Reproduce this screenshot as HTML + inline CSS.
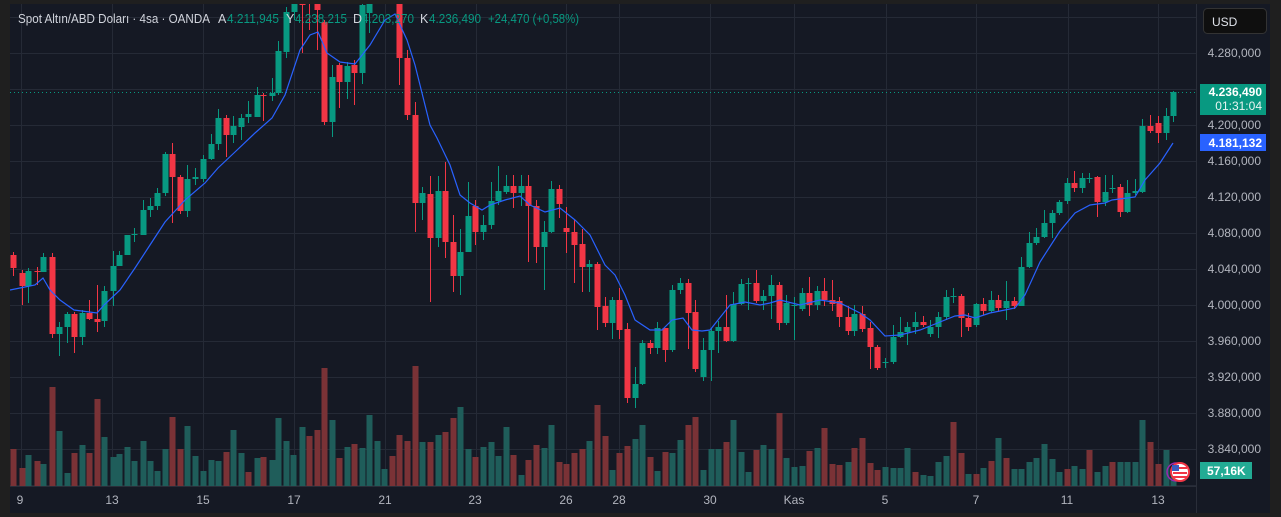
<!DOCTYPE html>
<html><head><meta charset="utf-8">
<style>
html,body{margin:0;padding:0;background:#1f1f1f;width:1281px;height:517px;overflow:hidden}
svg{display:block}
text{font-family:"Liberation Sans",sans-serif}
</style></head><body>
<svg id="s" width="1281" height="517" xmlns="http://www.w3.org/2000/svg">
<rect x="0" y="0" width="1281" height="517" fill="#1f1f1f"/>
<rect x="10" y="4" width="1260" height="509" fill="#151924"/>
<g id="grid" stroke="#252a36" stroke-width="1"></g>
<line x1="10" y1="486.5" x2="1196" y2="486.5" stroke="#2a2e39"/>
<line x1="1196.5" y1="4" x2="1196.5" y2="513" stroke="#2a2e39"/>
<defs><clipPath id="cp"><rect x="10" y="4" width="1186" height="482"/></clipPath></defs>
<g id="vol" clip-path="url(#cp)"></g>
<line x1="10" y1="92.5" x2="1196" y2="92.5" stroke="#089981" stroke-dasharray="1,3"/>
<g id="cdl" clip-path="url(#cp)"></g>
<polyline id="ma" fill="none" stroke="#2962ff" stroke-width="1.2" clip-path="url(#cp)"/>
<!-- header -->
<g font-size="12.5">
<text x="18" y="23" fill="#d1d4dc" textLength="192" lengthAdjust="spacingAndGlyphs">Spot Altın/ABD Doları · 4sa · OANDA</text>
<text x="218" y="23" fill="#d1d4dc">A</text><text x="227" y="23" fill="#089981" textLength="52" lengthAdjust="spacingAndGlyphs">4.211,945</text>
<text x="286" y="23" fill="#d1d4dc">Y</text><text x="295" y="23" fill="#089981" textLength="52" lengthAdjust="spacingAndGlyphs">4.238,215</text>
<text x="353" y="23" fill="#d1d4dc">D</text><text x="362" y="23" fill="#089981" textLength="52" lengthAdjust="spacingAndGlyphs">4.203,270</text>
<text x="420" y="23" fill="#d1d4dc">K</text><text x="429" y="23" fill="#089981" textLength="52" lengthAdjust="spacingAndGlyphs">4.236,490</text>
<text x="488" y="23" fill="#089981" textLength="91" lengthAdjust="spacingAndGlyphs">+24,470 (+0,58%)</text>
</g>
<!-- USD -->
<rect x="1203.5" y="8.5" width="63" height="25" rx="4" fill="#0f0f0f" stroke="#333"/>
<text x="1212" y="26" font-size="12" fill="#e0e3eb">USD</text>
<!-- price labels -->
<g font-size="12" fill="#b2b5be" text-anchor="end">
<text x="1261" y="57">4.280,000</text>
<text x="1261" y="129">4.200,000</text>
<text x="1261" y="165">4.160,000</text>
<text x="1261" y="201">4.120,000</text>
<text x="1261" y="237">4.080,000</text>
<text x="1261" y="273">4.040,000</text>
<text x="1261" y="309">4.000,000</text>
<text x="1261" y="345">3.960,000</text>
<text x="1261" y="381">3.920,000</text>
<text x="1261" y="417">3.880,000</text>
<text x="1261" y="453">3.840,000</text>
</g>
<rect x="1200" y="84" width="66" height="31" fill="#089981"/>
<text x="1262" y="96" font-size="12" fill="#fff" text-anchor="end" font-weight="bold">4.236,490</text>
<text x="1262" y="110" font-size="12" fill="#e8f5f2" text-anchor="end">01:31:04</text>
<rect x="1200" y="134" width="66" height="17" fill="#2962ff"/>
<text x="1262" y="147" font-size="12" fill="#fff" text-anchor="end" font-weight="bold">4.181,132</text>
<rect x="1200" y="462" width="52" height="17" fill="#22ab94"/>
<text x="1207" y="475" font-size="12" fill="#fff" font-weight="bold">57,16K</text>
<!-- flag icon -->
<circle cx="1176" cy="472" r="9" fill="none" stroke="#9c27b0" stroke-width="1.5"/>
<circle cx="1180" cy="472" r="9" fill="#fff" stroke="#f23645" stroke-width="2"/>
<rect x="1173" y="467" width="14" height="2" fill="#f23645"/><rect x="1173" y="472" width="14" height="2" fill="#f23645"/><rect x="1173" y="476" width="14" height="2" fill="#f23645"/>
<rect x="1172" y="465" width="7" height="6" fill="#3c5bbf"/>
<!-- time labels -->
<g font-size="12" fill="#b2b5be" text-anchor="middle">
<text x="20" y="504">9</text><text x="112" y="504">13</text><text x="203" y="504">15</text><text x="294" y="504">17</text>
<text x="385" y="504">21</text><text x="475" y="504">23</text><text x="566" y="504">26</text><text x="619" y="504">28</text>
<text x="710" y="504">30</text><text x="794" y="504">Kas</text><text x="885" y="504">5</text><text x="976" y="504">7</text>
<text x="1067" y="504">11</text><text x="1158" y="504">13</text>
</g>
</svg>
<script>
var NS="http://www.w3.org/2000/svg";
function el(p,t,a){var e=document.createElementNS(NS,t);for(var k in a)e.setAttribute(k,a[k]);p.appendChild(e);return e;}
var g=document.getElementById('grid');
for(var y=17;y<=486;y+=36)el(g,'line',{x1:10,x2:1196,y1:y+.5,y2:y+.5});
[21,112,203,294,385,476,566,619,710,794,886,976,1068,1158].forEach(function(x){el(g,'line',{x1:x+.5,x2:x+.5,y1:4,y2:486});});
var C="13,255,268,252,276;22,273,286,270,305;28,286,271,268,303;37,271,272,267,285;43,272,257,253,263;52,257,334,253,338;59,334,327,322,356;67,327,314,312,343;74,314,337,312,353;82,337,313,310,345;89,313,319,300,320;97,319,322,285,332;104,321,291,286,327;113,291,266,251,306;119,266,255,251,260;127,255,235,235,243;134,235,234,228,242;143,235,210,200,223;150,210,206,198,217;157,206,193,188,210;165,193,154,152,196;172,154,177,143,223;180,177,211,175,214;187,211,179,165,217;195,179,177,168,185;203,179,159,155,182;211,159,144,134,160;218,144,118,109,150;226,118,135,115,157;233,135,126,116,143;241,127,118,114,140;248,117,114,101,123;257,117,95,87,117;263,95,96,93,121;272,96,93,78,101;278,93,51,41,95;286,52,12,7,58;294,12,-10,-20,20;302,-5,5,-20,53;309,-30,-5,-40,30;317,-20,10,-30,50;324,22,122,20,125;332,122,77,65,137;339,65,82,63,108;347,82,66,62,99;354,65,73,60,105;362,73,5,2,84;369,13,-10,-20,33;377,-10,-30,-40,0;384,-30,-40,-50,-20;392,-35,-20,-50,0;399,0,58,-10,85;407,58,115,50,120;415,115,203,102,232;422,203,193,187,220;430,194,238,176,302;438,238,191,176,247;445,191,242,162,258;453,242,276,215,292;460,276,252,229,295;468,252,216,182,230;475,206,232,200,245;483,232,225,215,240;491,225,201,182,229;498,201,191,166,205;506,192,186,175,194;513,186,193,175,208;521,193,186,175,206;528,186,206,175,262;536,206,247,200,263;544,247,232,221,290;551,232,189,181,233;559,189,204,185,218;566,228,232,207,253;574,232,245,220,283;582,244,267,229,292;589,267,264,260,292;597,264,307,262,330;605,306,323,297,327;612,323,300,297,339;619,300,330,288,339;627,329,398,323,403;635,398,384,367,408;642,384,343,340,385;650,343,348,340,354;657,348,328,322,354;665,328,350,328,362;672,350,290,285,352;680,290,283,278,294;688,283,313,279,349;695,312,369,300,372;703,377,350,338,381;711,350,331,328,381;718,331,327,321,353;726,327,341,295,342;733,341,304,292,342;741,304,284,279,305;748,284,283,278,310;756,283,301,270,303;763,301,296,290,310;771,296,285,275,319;779,285,323,282,330;786,323,303,295,325;794,305,305,297,340;802,309,293,288,311;809,293,305,277,316;817,305,291,286,310;824,291,300,278,306;832,300,304,280,311;839,301,317,297,327;848,317,331,306,335;854,331,314,305,336;862,314,329,306,332;870,328,347,322,369;877,347,368,345,370;885,362,362,358,368;893,362,337,325,364;900,337,332,317,338;907,332,327,322,345;915,327,322,312,334;923,322,325,316,327;930,334,327,320,337;938,327,317,312,338;946,317,297,290,320;953,296,296,288,303;961,296,318,294,337;968,318,327,313,331;976,325,304,303,327;983,304,311,298,315;991,311,300,291,313;998,300,308,295,312;1006,308,301,281,320;1014,301,306,297,309;1021,306,267,257,306;1029,267,243,232,268;1036,243,237,228,245;1044,237,223,210,238;1052,223,213,210,238;1059,213,202,200,215;1067,201,183,178,204;1074,183,188,171,192;1082,188,178,173,193;1089,178,178,173,183;1097,177,202,176,217;1105,202,192,175,206;1112,188,188,175,193;1120,187,212,184,217;1127,212,193,180,213;1135,193,191,179,195;1142,192,126,119,193;1150,126,131,115,133;1158,123,133,116,143;1166,133,116,108,140;1173,116,92,91,122";
var cg=document.getElementById('cdl');
C.split(';').forEach(function(s){var a=s.split(',').map(Number);var x=a[0],o=a[1],c=a[2],h=a[3],l=a[4];
var col=c<=o?'#089981':'#f23645';var top=Math.min(o,c),bot=Math.max(o,c);if(bot-top<1)bot=top+1;
el(cg,'rect',{x:x,y:h,width:1,height:Math.max(1,l-h),fill:col});
el(cg,'rect',{x:x-2.5,y:top,width:6,height:bot-top,fill:col});});
var V="13,449,r;22,468,r;28,455,g;37,461,r;43,464,g;52,387,r;59,431,g;67,473,g;74,453,r;82,445,g;89,453,r;97,399,r;104,437,g;113,457,g;119,454,g;127,447,g;134,461,g;143,441,g;150,461,g;157,471,g;165,449,g;172,417,r;180,449,r;187,426,g;195,456,g;203,471,g;211,460,g;218,461,g;226,452,r;233,430,g;241,453,g;248,472,r;257,458,g;263,457,r;272,460,g;278,418,g;286,441,g;293,455,g;302,427,g;309,436,r;317,430,r;324,368,r;332,420,g;339,458,r;347,447,g;354,444,r;362,448,g;369,415,g;377,441,g;384,469,g;392,456,r;399,435,r;407,441,r;415,366,r;422,442,g;430,442,r;438,435,g;445,432,r;453,418,r;460,407,g;468,449,g;475,457,r;483,447,g;491,442,g;498,456,g;506,427,g;513,455,r;521,475,g;528,460,r;536,445,r;544,448,g;551,425,g;559,462,r;566,464,r;574,453,r;582,449,r;589,441,g;597,405,r;605,436,r;612,470,g;619,453,r;627,446,r;635,439,g;642,425,g;650,457,r;657,471,g;665,452,r;672,453,g;680,440,g;688,425,r;695,417,r;703,470,g;711,449,g;718,449,g;726,442,r;733,420,g;741,452,g;748,472,g;756,450,r;763,445,g;771,449,g;779,413,r;786,458,g;794,467,g;802,466,g;809,451,r;817,448,g;824,428,r;832,464,r;839,465,r;848,462,g;854,448,r;862,438,r;870,463,r;877,470,r;885,467,g;893,468,g;900,468,g;907,448,g;915,472,r;923,475,g;930,476,g;938,462,g;946,456,g;953,422,r;961,453,r;968,474,g;976,474,r;983,468,g;991,461,r;998,438,g;1006,458,r;1014,469,g;1021,469,g;1029,462,g;1036,458,g;1044,444,g;1052,459,g;1059,472,g;1067,469,r;1074,466,g;1082,469,g;1089,450,r;1097,472,g;1105,466,g;1112,462,r;1120,462,g;1127,462,g;1135,462,g;1142,420,g;1150,442,r;1158,464,r;1166,450,g;1173,470,g";
var vg=document.getElementById('vol');
V.split(';').forEach(function(s){var a=s.split(',');var x=+a[0],t=+a[1];
el(vg,'rect',{x:x-2.5,y:t,width:6,height:486-t,fill:a[2]=='r'?'#7a3236':'#1f5d5a'});});
var M=[[10,290],[20,288],[35,285],[43,278],[50,290],[60,300],[74,310],[97,313],[104,305],[120,290],[135,268],[150,245],[165,222],[185,200],[205,183],[218,168],[235,152],[255,133],[272,118],[285,95],[300,50],[310,35],[318,32],[327,53],[340,62],[355,64],[370,45],[385,20],[395,14],[407,40],[415,65],[430,125],[437,138],[450,165],[460,195],[470,203],[482,210],[490,205],[505,200],[520,196],[530,205],[545,212],[560,208],[575,220],[590,235],[605,265],[615,275],[625,295],[635,320],[650,330],[662,330],[672,320],[683,318],[692,330],[702,331],[710,330],[730,305],[745,302],[760,305],[770,303],[780,300],[800,305],[820,300],[840,303],[860,313],[870,320],[885,336],[900,335],[920,330],[940,322],[955,316],[965,315],[975,318],[990,313],[1000,311],[1015,308],[1025,295],[1040,262],[1060,231],[1075,213],[1090,205],[1105,203],[1112,200],[1127,198],[1135,197],[1145,180],[1160,163],[1173,143]];
document.getElementById('ma').setAttribute('points',M.map(function(p){return p.join(',')}).join(' '));
</script>
</body></html>
